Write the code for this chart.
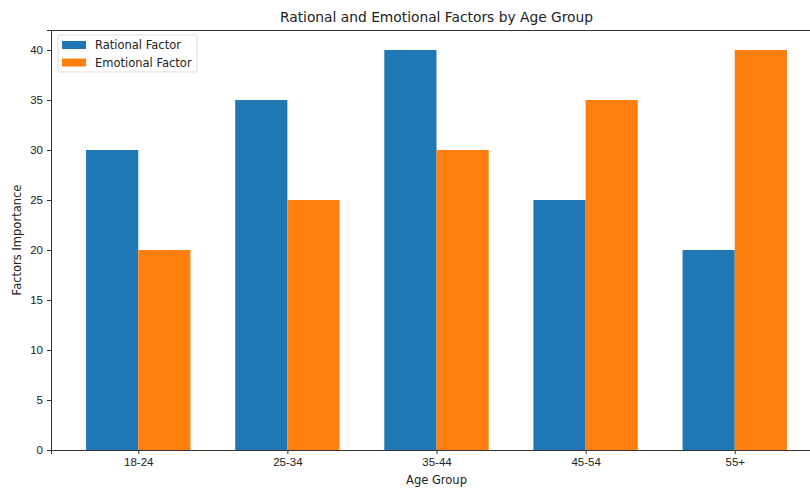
<!DOCTYPE html>
<html>
<head>
<meta charset="utf-8">
<script src="https://cdn.jsdelivr.net/npm/d3@7"></script>
<style>
  body { margin: 0; background: #fff; }
  svg { font-family: 'DejaVu Sans', sans-serif; }
  .axis path, .axis line { stroke: #333; }
  .axis text { fill: #222; font-size: 11.5px; }
</style>
</head>
<body>
<div id="chart"></div>
<script>
// data
let ageGroups = ['18-24', '25-34', '35-44', '45-54', '55+']
let rationalValues = [30, 35, 40, 25, 20]
let emotionalValues = [20, 25, 30, 35, 40]
let yTicks = [0, 5, 10, 15, 20, 25, 30, 35, 40]

let seriesNames = ['Rational Factor', 'Emotional Factor']
let colors = ['#1f77b4', '#ff7f0e']

// layout (the figure is cropped on the right, like the original)
let margin = { top: 30, left: 51, right: -12, bottom: 38 }
let totalWidth = 810
let totalHeight = 488
let width = totalWidth - margin.left - margin.right
let height = totalHeight - margin.top - margin.bottom

let barWidth = 0.35

let svg = d3
  .select('#chart')
  .append('svg')
  .attr('width', totalWidth)
  .attr('height', totalHeight)

let g = svg
  .append('g')
  .attr('transform', `translate(${margin.left},${margin.top})`)

// scales
let xPositionScale = d3
  .scaleLinear()
  .domain([-0.585, ageGroups.length - 1 + 0.585])
  .range([0, width])

let yPositionScale = d3
  .scaleLinear()
  .domain([0, 42])
  .range([height, 0])

// bars
let series = [rationalValues, emotionalValues]
series.forEach((values, s) => {
  g.selectAll('.bar-' + s)
    .data(values)
    .enter()
    .append('rect')
    .attr('class', 'bar-' + s)
    .attr('x', (d, i) => xPositionScale(i + (s - 1) * barWidth))
    .attr('width', xPositionScale(barWidth) - xPositionScale(0))
    .attr('y', d => yPositionScale(d))
    .attr('height', d => yPositionScale(0) - yPositionScale(d))
    .attr('fill', colors[s])
})

// axes
let xAxis = d3
  .axisBottom(xPositionScale)
  .tickValues(d3.range(ageGroups.length))
  .tickFormat(i => ageGroups[i])
  .tickSizeOuter(0)
  .tickSize(4)
  .tickPadding(4)

g.append('g')
  .attr('class', 'axis x-axis')
  .attr('transform', `translate(0,${height})`)
  .call(xAxis)

let yAxis = d3
  .axisLeft(yPositionScale)
  .tickValues(yTicks)
  .tickSizeOuter(0)
  .tickSize(4)
  .tickPadding(4)

g.append('g')
  .attr('class', 'axis y-axis')
  .call(yAxis)

// top spine
g.append('line')
  .attr('x1', 0)
  .attr('x2', width)
  .attr('y1', 0.5)
  .attr('y2', 0.5)
  .attr('stroke', '#333')

// titles
svg
  .append('text')
  .text('Rational and Emotional Factors by Age Group')
  .attr('x', margin.left + width / 2)
  .attr('y', 22)
  .attr('text-anchor', 'middle')
  .attr('font-size', 13.8)
  .attr('fill', '#222')

svg
  .append('text')
  .text('Age Group')
  .attr('x', margin.left + width / 2)
  .attr('y', 484)
  .attr('text-anchor', 'middle')
  .attr('font-size', 11.5)
  .attr('fill', '#222')

svg
  .append('text')
  .text('Factors Importance')
  .attr('transform', `translate(21,${margin.top + height / 2}) rotate(-90)`)
  .attr('text-anchor', 'middle')
  .attr('font-size', 11.5)
  .attr('fill', '#222')

// legend
let legend = g.append('g').attr('transform', 'translate(7,5)')

legend
  .append('rect')
  .attr('width', 139)
  .attr('height', 37)
  .attr('rx', 2)
  .attr('fill', '#fff')
  .attr('fill-opacity', 0.8)
  .attr('stroke', '#ddd')

seriesNames.forEach((name, s) => {
  legend
    .append('rect')
    .attr('x', 4)
    .attr('y', 6 + s * 17.5)
    .attr('width', 24)
    .attr('height', 8)
    .attr('fill', colors[s])
  legend
    .append('text')
    .text(name)
    .attr('x', 37)
    .attr('y', 14 + s * 17.5)
    .attr('font-size', 11.5)
    .attr('fill', '#222')
})
</script>
</body>
</html>
